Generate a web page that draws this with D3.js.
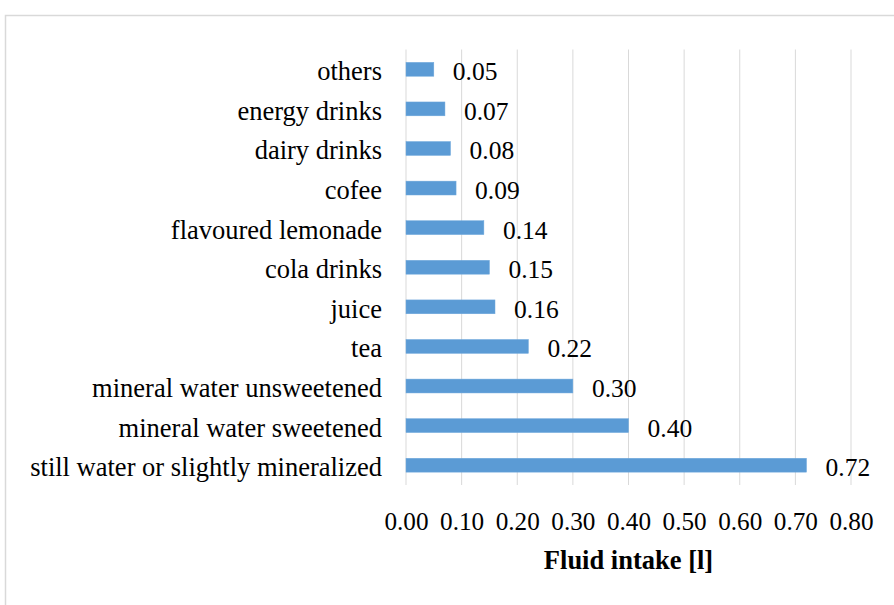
<!DOCTYPE html>
<html>
<head>
<meta charset="utf-8">
<script src="https://cdn.jsdelivr.net/npm/d3@7"></script>
<style>
  html, body { margin: 0; padding: 0; background: #fff; }
  svg { display: block; }
  svg text { font-family: 'Liberation Serif', 'Times New Roman', serif; }
</style>
</head>
<body>
<svg id="chart" width="894" height="605"></svg>
<script>
const categories = [
  'others',
  'energy drinks',
  'dairy drinks',
  'cofee',
  'flavoured lemonade',
  'cola drinks',
  'juice',
  'tea',
  'mineral water unsweetened',
  'mineral water sweetened',
  'still water or slightly mineralized'
]
const intake = [0.05, 0.07, 0.08, 0.09, 0.14, 0.15, 0.16, 0.22, 0.30, 0.40, 0.72]
const xTicks = [0, 0.1, 0.2, 0.3, 0.4, 0.5, 0.6, 0.7, 0.8]
const axisTitle = 'Fluid intake [l]'

const margin = { top: 49.5, right: 43, bottom: 120, left: 406 }
const width = 894 - margin.left - margin.right
const height = 605 - margin.top - margin.bottom
const serif = "'Liberation Serif', 'Times New Roman', serif"

const svg = d3.select('#chart')

// outer frame (only top and left edges fall inside the picture)
svg.append('rect')
  .attr('x', 5.5)
  .attr('y', 15.5)
  .attr('width', 1000)
  .attr('height', 1000)
  .attr('fill', 'none')
  .attr('stroke', '#d9d9d9')
  .attr('stroke-width', 1.5)

const g = svg.append('g')
  .attr('id', 'graph-g')
  .attr('transform', `translate(${margin.left}, ${margin.top})`)

const x = d3.scaleLinear().domain([0, 0.8]).range([0, width])
const y = d3.scaleBand()
  .domain(categories)
  .range([0, height])
  .paddingInner(0.65)
  .paddingOuter(0.325)

// vertical gridlines
g.append('g')
  .selectAll('line')
  .data(xTicks)
  .enter()
  .append('line')
  .attr('x1', d => x(d))
  .attr('x2', d => x(d))
  .attr('y1', 0)
  .attr('y2', height)
  .attr('stroke', '#d9d9d9')
  .attr('stroke-width', 1)

// x axis labels
const xAxis = g.append('g')
  .attr('transform', `translate(0, ${height})`)
  .call(d3.axisBottom(x).tickValues(xTicks).tickFormat(d3.format('.2f')).tickSize(0).tickPadding(0))
xAxis.attr('font-family', serif).attr('font-size', 25.2)
xAxis.select('.domain').remove()
xAxis.selectAll('text')
  .attr('dy', null)
  .attr('y', 45)
  .attr('fill', '#000')

// category labels
const yAxis = g.append('g')
  .call(d3.axisLeft(y).tickSize(0).tickPadding(24))
yAxis.attr('font-family', serif).attr('font-size', 26.5)
yAxis.select('.domain').remove()
yAxis.selectAll('text')
  .attr('dy', null)
  .attr('y', 11)
  .attr('fill', '#000')

const rows = categories.map((c, i) => ({ name: c, value: intake[i] }))

// bars
g.selectAll('.bar')
  .data(rows)
  .enter()
  .append('rect')
  .attr('class', 'bar')
  .attr('x', 0)
  .attr('y', d => y(d.name))
  .attr('width', d => x(d.value))
  .attr('height', y.bandwidth())
  .attr('fill', '#5b9bd5')
  .attr('stroke', '#6fa8dc')
  .attr('stroke-width', 0.5)

// value labels
g.selectAll('.value')
  .data(rows)
  .enter()
  .append('text')
  .attr('class', 'value')
  .attr('x', d => x(d.value) + 19)
  .attr('y', d => y(d.name) + y.bandwidth() / 2 + 11)
  .attr('fill', '#000')
  .style('font-size', '25.5px')
  .text(d => d3.format('.2f')(d.value))

// axis title
g.append('text')
  .attr('x', width / 2)
  .attr('y', height + 84)
  .attr('text-anchor', 'middle')
  .attr('fill', '#000')
  .style('font-size', '26.5px')
  .style('font-weight', 'bold')
  .text(axisTitle)
</script>
</body>
</html>
